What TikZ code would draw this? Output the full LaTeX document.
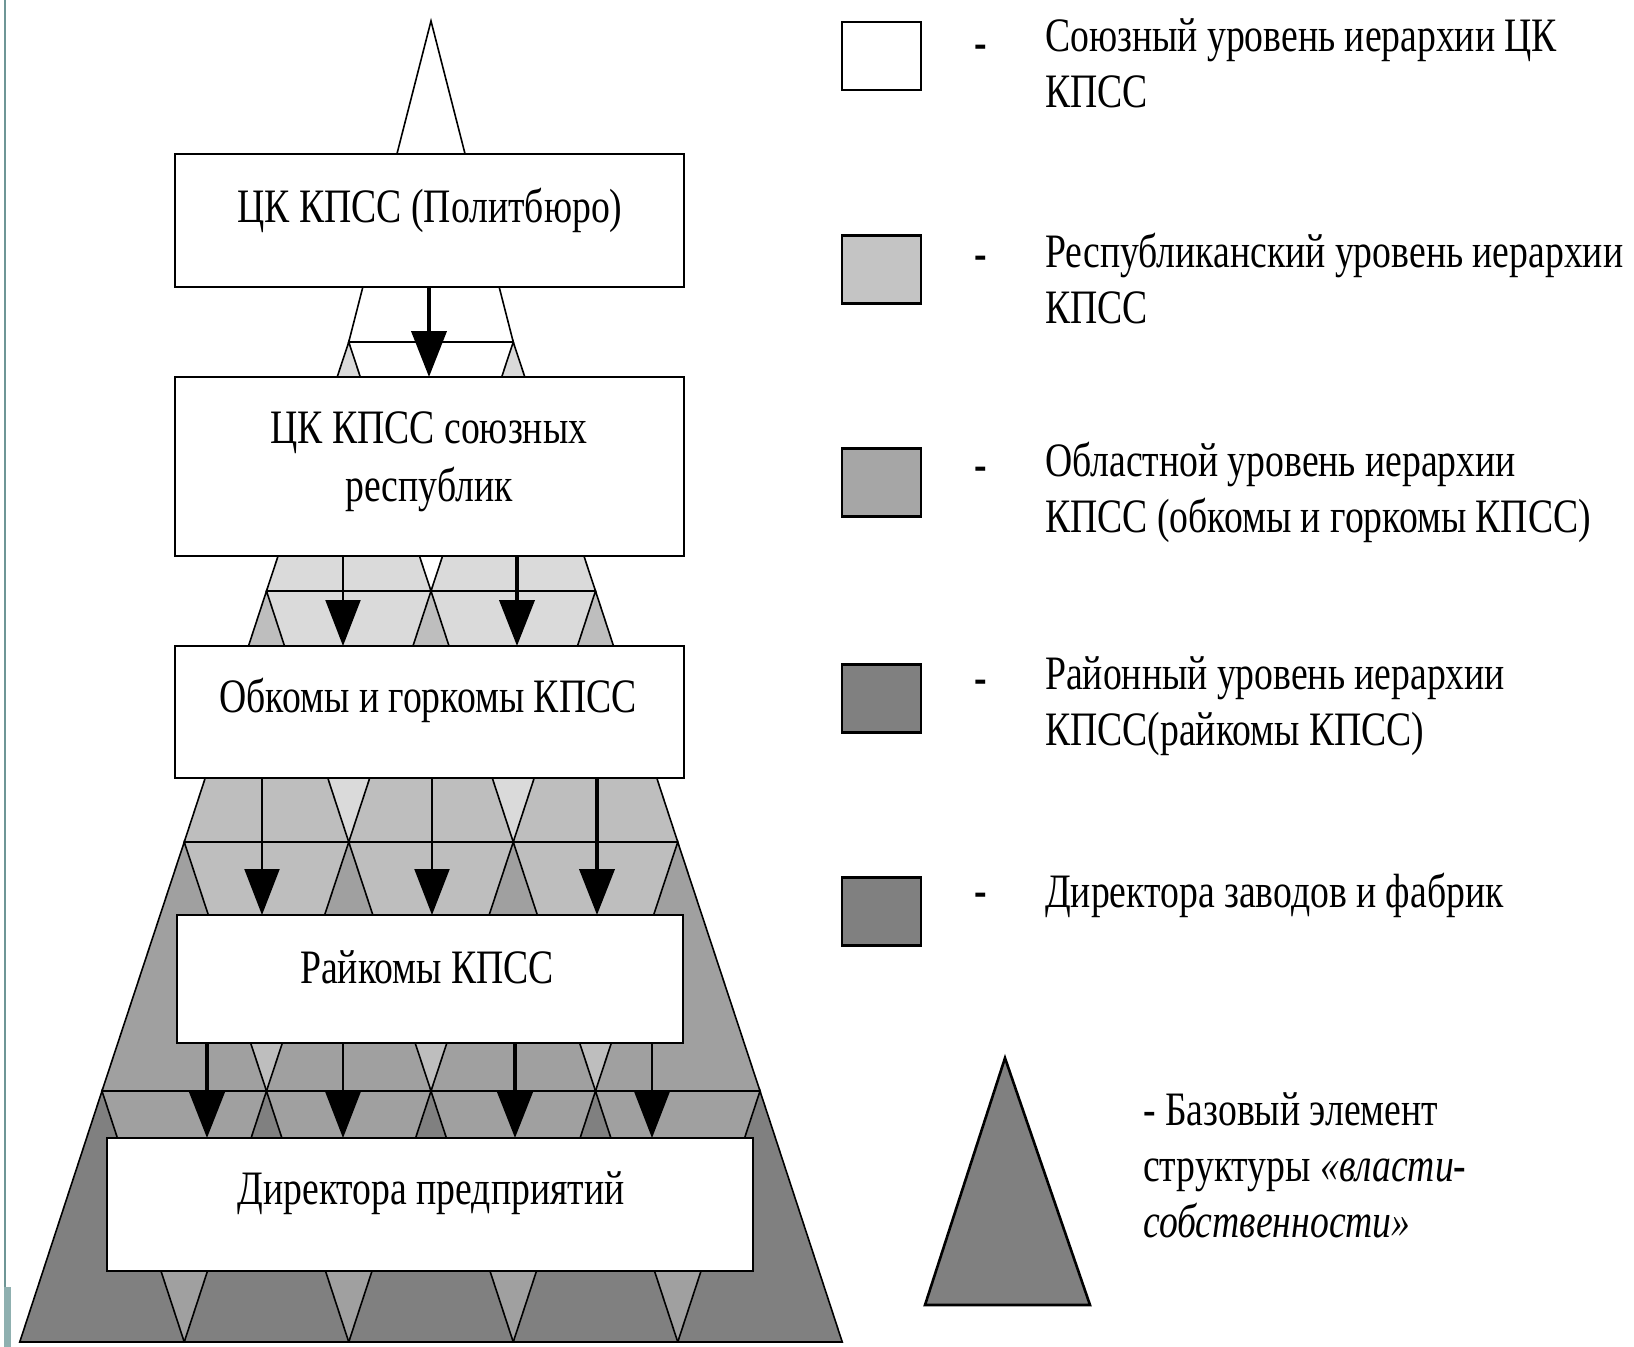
\documentclass[tikz,border=0pt]{standalone}
\usepackage{fontspec}
\setmainfont{Liberation Serif}[FakeStretch=0.785]
\usetikzlibrary{arrows.meta}
\definecolor{cA}{HTML}{FFFFFF}
\definecolor{cB}{HTML}{DADADA}
\definecolor{cC}{HTML}{BEBEBE}
\definecolor{cD}{HTML}{A0A0A0}
\definecolor{cE}{HTML}{808080}
\definecolor{lgB}{HTML}{C4C4C4}
\definecolor{lgC}{HTML}{A6A6A6}
\definecolor{lgD}{HTML}{808080}
\definecolor{rim}{HTML}{6E9696}
\definecolor{rimlight}{HTML}{8FB0B0}
\begin{document}
\begin{tikzpicture}[x=1pt,y=-1pt,
  tri/.style={draw=black,line width=1.6pt,line join=miter},
  hline/.style={draw=black,line width=2.6pt},
  box/.style={draw=black,fill=white,line width=2.6pt,rectangle,inner sep=0pt,outer sep=0pt},
  lbl/.style={font=\fontsize{48}{58}\selectfont,inner sep=0pt,align=center},
  ltxt/.style={font=\fontsize{48}{56}\selectfont,inner sep=0pt,align=left,anchor=west},
  lbox/.style={draw=black,line width=2.6pt,rectangle,minimum width=79pt,minimum height=68pt,inner sep=0pt},
  thinarr/.style={draw=black,line width=2pt,-{Triangle[width=35pt,length=46pt]}},
  thickarr/.style={draw=black,line width=4pt,-{Triangle[width=35pt,length=46pt]}}]
\useasboundingbox (0,0) rectangle (1634,1347);
\fill[white] (0,0) rectangle (1634,1347);
% slide rim
\draw[rim,line width=2.5pt] (5,0) -- (5,1347);
\fill[rimlight] (4,1287) rectangle (11,1347);

% pyramid rows
\foreach \k/\yt/\yb/\cp/\cc in {2/342/591/cA/cB, 3/591/842/cB/cC, 4/842/1091/cC/cD, 5/1091/1342/cD/cE} {
  \pgfmathsetmacro\xf{431-(\k-1)*82.25}
  \pgfmathsetmacro\xl{431+(\k-1)*82.25}
  \fill[\cp] (\xf,\yt) -- (\xl,\yt) -- (\xl+82.25,\yb) -- (\xf-82.25,\yb) -- cycle;
  \foreach \j in {1,...,\k} {
    \pgfmathsetmacro\xa{\xf+(\j-1)*164.5}
    \filldraw[fill=\cc,tri] (\xa,\yt) -- (\xa+82.25,\yb) -- (\xa-82.25,\yb) -- cycle;
  }
}
\filldraw[fill=white,tri] (431,21) -- (513.25,342) -- (348.75,342) -- cycle;
\foreach \k/\y in {1/342,2/591,3/842,4/1091,5/1342}
  \draw[hline] ({431-\k*82.25},\y) -- ({431+\k*82.25},\y);

% boxes
\node[box,minimum width=509pt,minimum height=133pt] (b1) at (429.5,220.5) {};
\node[box,minimum width=509pt,minimum height=179pt] (b2) at (429.5,466.5) {};
\node[box,minimum width=509pt,minimum height=132pt] (b3) at (429.5,712) {};
\node[box,minimum width=506pt,minimum height=128pt] (b4) at (430,979) {};
\node[box,minimum width=646pt,minimum height=133pt] (b5) at (430,1204.5) {};

\node[lbl] (t1) at (430,210) {ЦК КПСС (Политбюро)};
\node[lbl] (t2) at (429,462) {ЦК КПСС союзных\\республик};
\node[lbl] (t3) at (428,700) {Обкомы и горкомы КПСС};
\node[lbl] (t4) at (427,967) {Райкомы КПСС};
\node[lbl] (t5) at (431,1193) {Директора предприятий};

% arrows
\coordinate (p1) at (429,0);
\coordinate (q1) at (343,0);
\coordinate (q2) at (517,0);
\coordinate (r1) at (262,0);
\coordinate (r2) at (432,0);
\coordinate (r3) at (597,0);
\coordinate (s1) at (207,0);
\coordinate (s2) at (343,0);
\coordinate (s3) at (515,0);
\coordinate (s4) at (652,0);
\draw[thickarr] (p1 |- b1.south) -- (p1 |- b2.north);
\draw[thinarr]  (q1 |- b2.south) -- (q1 |- b3.north);
\draw[thickarr] (q2 |- b2.south) -- (q2 |- b3.north);
\draw[thinarr]  (r1 |- b3.south) -- (r1 |- b4.north);
\draw[thinarr]  (r2 |- b3.south) -- (r2 |- b4.north);
\draw[thickarr] (r3 |- b3.south) -- (r3 |- b4.north);
\draw[thickarr] (s1 |- b4.south) -- (s1 |- b5.north);
\draw[thinarr]  (s2 |- b4.south) -- (s2 |- b5.north);
\draw[thickarr] (s3 |- b4.south) -- (s3 |- b5.north);
\draw[thinarr]  (s4 |- b4.south) -- (s4 |- b5.north);

% legend
\node[lbox,fill=white] (l1) at (881.5,56) {};
\node[lbox,fill=lgB] (l2) at (881.5,269.5) {};
\node[lbox,fill=lgC] (l3) at (881.5,482.5) {};
\node[lbox,fill=lgD] (l4) at (881.5,698.5) {};
\node[lbox,fill=lgD] (l5) at (881.5,911.5) {};
\foreach \n/\y in {1/52,2/263,3/474,4/687,5/900}
  \node[font=\fontsize{48}{56}\selectfont\bfseries,inner sep=0pt] (d\n) at (981,\y) {-};
\node[ltxt] (x1) at (1045,63) {Союзный уровень иерархии ЦК\\КПСС};
\node[ltxt] (x2) at (1045,279) {Республиканский уровень иерархии\\КПСС};
\node[ltxt] (x3) at (1045,492) {Областной уровень иерархии\\КПСС (обкомы и горкомы КПСС)};
\node[ltxt] (x4) at (1045,706) {Районный уровень иерархии\\КПСС(райкомы КПСС)};
\node[ltxt] (x5) at (1045,895) {Директора заводов и фабрик};

\filldraw[fill=cE,draw=black,line width=2.6pt,line join=miter] (1005,1058) -- (1090,1305) -- (925,1305) -- cycle;
\node[ltxt] (x6) at (1143,1165) {- Базовый элемент\\структуры \textit{«власти-}\\\textit{собственности»}};
\end{tikzpicture}
\end{document}
